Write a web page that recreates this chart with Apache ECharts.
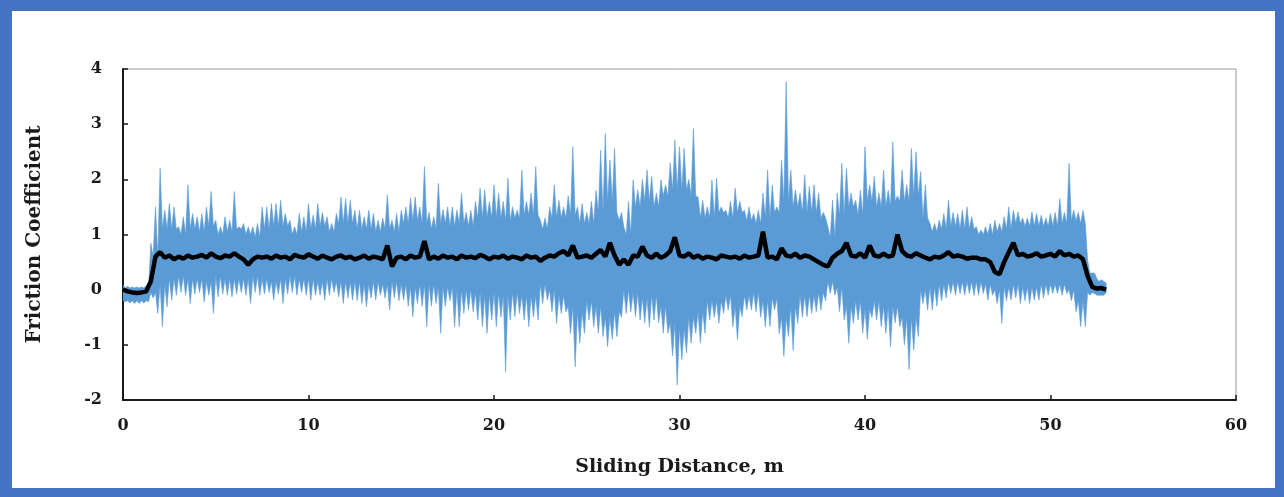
<!DOCTYPE html>
<html><head><meta charset="utf-8">
<script src="https://cdn.jsdelivr.net/npm/echarts@6.0.0/dist/echarts.min.js"></script>
<style>
html,body{margin:0;padding:0;background:#fff;}
#wrap{position:relative;width:1284px;height:497px;}
#chart{position:absolute;left:0;top:0;width:1284px;height:497px;}
#frame{position:absolute;left:0;top:0;width:1284px;height:497px;box-sizing:border-box;border-style:solid;border-color:#4472C4;border-width:11px 9px 9px 12px;pointer-events:none;}
</style></head>
<body><div id="wrap"><div id="chart"></div><div id="frame"></div></div>
<script>
// sampling step of the read-off spike values (m)
const step = 0.25;
// sampling step of the read-off dense core band (m)
const coreStep = 0.5;
// blue raw signal: local maxima (spike tops) per 0.25 m
const blueHigh = [
0.08,0.06,0.05,0.05, 0.05,0.07,0.84,1.5, 2.2,1.44,1.56,1.5, 1.14,1.32,1.9,1.38,
1.32,1.38,1.5,1.78, 1.26,1.14,1.32,1.26, 1.78,1.14,1.2,1.14, 1.14,1.2,1.5,1.5,
1.56,1.56,1.62,1.38, 1.26,1.14,1.38,1.32, 1.56,1.35,1.56,1.4, 1.32,1.2,1.38,1.68,
1.65,1.62,1.44,1.44, 1.32,1.44,1.38,1.26, 1.3,1.72,1.26,1.38, 1.44,1.5,1.66,1.68,
1.5,2.23,1.4,1.32, 1.93,1.45,1.5,1.5, 1.44,1.75,1.4,1.44, 1.6,1.84,1.81,1.6,
1.9,1.75,1.6,2.02, 1.5,1.44,2.17,1.6, 1.75,2.23,1.26,1.3, 1.5,1.9,1.62,1.5,
1.7,2.59,1.5,1.56, 1.4,1.6,1.8,2.53, 2.83,2.35,2.56,1.26, 1.14,1.6,1.99,1.81,
2.0,2.17,2.05,1.75, 1.99,1.9,2.3,2.71, 2.59,2.56,2.0,2.92, 1.68,1.62,1.5,1.99,
2.02,1.5,1.44,1.6, 1.84,1.6,1.44,1.5, 1.38,1.44,1.75,2.17, 1.9,1.5,2.35,3.77,
2.17,1.81,1.75,2.08, 1.87,1.9,1.75,1.4, 1.14,1.62,1.75,2.29, 2.2,1.75,1.62,1.8,
2.59,1.9,2.05,1.75, 2.17,1.8,2.68,1.7, 2.17,1.9,2.56,2.5, 2.14,1.9,1.2,1.2,
1.26,1.38,1.62,1.4, 1.38,1.44,1.5,1.32, 1.14,1.08,1.14,1.2, 1.26,1.2,1.32,1.5,
1.44,1.41,1.3,1.3, 1.41,1.38,1.35,1.3, 1.38,1.4,1.65,1.4, 2.29,1.44,1.4,1.44,
0.54,0.3,0.2,0.18, 0.12
];
// blue raw signal: local minima (spike bottoms) per 0.25 m
const blueLow = [
-0.22,-0.24,-0.25,-0.25, -0.24,-0.22,-0.15,-0.43, -0.67,-0.31,-0.19,-0.1, -0.05,-0.1,-0.25,-0.08,
-0.05,-0.22,-0.1,-0.43, -0.13,-0.08,-0.1,-0.13, -0.08,-0.05,-0.1,-0.25, -0.05,-0.1,-0.08,-0.05,
-0.19,-0.08,-0.25,-0.08, -0.05,-0.1,-0.05,-0.1, -0.19,-0.1,-0.1,-0.19, -0.1,-0.05,-0.13,-0.25,
-0.15,-0.19,-0.2,-0.25, -0.31,-0.15,-0.19,-0.1, -0.15,-0.37,-0.15,-0.2, -0.19,-0.3,-0.49,-0.25,
-0.3,-0.67,-0.3,-0.25, -0.79,-0.3,-0.2,-0.67, -0.67,-0.43,-0.37,-0.4, -0.55,-0.67,-0.79,-0.55,
-0.67,-0.5,-1.49,-0.55, -0.49,-0.43,-0.55,-0.67, -0.5,-0.55,-0.25,-0.19, -0.4,-0.61,-0.43,-0.4,
-0.8,-1.4,-0.97,-0.79, -0.55,-0.67,-0.79,-0.85, -1.03,-0.9,-0.85,-0.5, -0.43,-0.4,-0.49,-0.55,
-0.6,-0.67,-0.55,-0.6, -0.79,-0.79,-1.2,-1.73, -1.27,-1.15,-0.97,-0.79, -0.97,-0.79,-0.55,-0.5,
-0.61,-0.43,-0.37,-0.67, -0.91,-0.49,-0.37,-0.37, -0.4,-0.5,-0.67,-0.67, -0.37,-0.8,-1.21,-0.85,
-1.1,-0.61,-0.5,-0.49, -0.43,-0.4,-0.37,-0.2, -0.07,-0.1,-0.4,-0.55, -0.97,-0.61,-0.55,-0.79,
-0.9,-0.5,-0.55,-0.67, -0.79,-1.03,-0.6,-0.67, -1.0,-1.45,-1.1,-0.85, -0.25,-0.37,-0.37,-0.3,
-0.2,-0.15,-0.07,-0.1, -0.07,-0.1,-0.07,-0.1, -0.1,-0.07,-0.19,-0.1, -0.25,-0.61,-0.2,-0.19,
-0.15,-0.25,-0.2,-0.25, -0.19,-0.19,-0.15,-0.1, -0.07,-0.07,-0.1,-0.07, -0.2,-0.4,-0.67,-0.67,
-0.1,-0.07,-0.1,-0.1, -0.05
];
// upper edge of the dense blue core, per 0.5 m
const coreHigh = [
0.03,0.03,0.03,0.6,1.1,1.1,1.0,1.1,1.05,1.15,1.0,1.05,1.1,1.0,0.95,1.1,1.15,1.15,1.0,1.05,
1.1,1.15,1.05,1.2,1.2,1.1,1.1,1.05,1.1,1.05,1.2,1.25,1.2,1.1,1.2,1.15,1.2,1.15,1.3,1.3,1.3,1.25,
1.3,1.35,1.35,1.1,1.3,1.3,1.35,1.2,1.2,1.4,1.6,1.4,1.0,1.5,1.6,1.5,1.7,1.8,1.8,1.7,1.3,1.3,
1.4,1.3,1.4,1.25,1.2,1.3,1.4,1.6,1.5,1.4,1.4,1.3,0.95,1.35,1.5,1.35,1.6,1.5,1.5,1.6,1.6,1.7,
1.3,1.05,1.1,1.15,1.1,1.1,1.0,1.0,1.05,1.1,1.2,1.15,1.15,1.15,1.15,1.2,1.25,1.2,0.3,0.15,0.1
];
// lower edge of the dense blue core, per 0.5 m
const coreLow = [
-0.2,-0.2,-0.2,-0.05,0.1,0.2,0.25,0.2,0.2,0.15,0.25,0.2,0.2,0.2,0.25,0.2,0.15,0.2,0.25,0.2,
0.2,0.15,0.2,0.15,0.15,0.15,0.1,0.15,0.1,0.15,0.1,0.05,0.1,0.1,0.05,0.05,0.0,0.0,-0.05,-0.1,-0.05,-0.1,
-0.05,-0.1,-0.1,0.1,0.0,-0.1,-0.3,-0.4,-0.2,-0.3,-0.5,-0.4,0.0,-0.05,-0.15,-0.1,-0.3,-0.6,-0.7,-0.5,-0.4,-0.2,
-0.2,-0.1,-0.3,-0.1,-0.05,-0.2,-0.15,-0.5,-0.3,-0.1,-0.1,-0.05,0.15,0.05,-0.3,-0.2,-0.35,-0.2,-0.3,-0.3,-0.5,-0.5,
0.0,0.05,0.1,0.15,0.15,0.15,0.15,0.1,0.0,0.05,0.1,0.05,0.05,0.1,0.1,0.1,0.0,-0.2,-0.05,-0.1,-0.05
];
// black filtered friction coefficient per 0.25 m
const blackMean = [
0.0,-0.03,-0.05,-0.06, -0.05,-0.03,0.15,0.6, 0.68,0.58,0.62,0.55, 0.6,0.56,0.62,0.58,
0.6,0.63,0.58,0.66, 0.6,0.57,0.62,0.6, 0.66,0.6,0.55,0.45, 0.55,0.6,0.58,0.6,
0.56,0.62,0.58,0.6, 0.55,0.63,0.6,0.58, 0.64,0.6,0.56,0.62, 0.58,0.55,0.6,0.62,
0.57,0.6,0.55,0.58, 0.62,0.56,0.6,0.58, 0.55,0.8,0.42,0.58, 0.6,0.55,0.62,0.58,
0.6,0.88,0.55,0.6, 0.56,0.62,0.58,0.6, 0.55,0.62,0.58,0.6, 0.57,0.63,0.6,0.55,
0.6,0.58,0.62,0.56, 0.6,0.58,0.55,0.62, 0.58,0.6,0.52,0.58, 0.62,0.6,0.66,0.7,
0.62,0.8,0.58,0.6, 0.62,0.58,0.65,0.72, 0.6,0.85,0.62,0.45, 0.55,0.45,0.62,0.6,
0.78,0.62,0.58,0.65, 0.58,0.62,0.7,0.95, 0.62,0.6,0.66,0.58, 0.62,0.56,0.6,0.58,
0.55,0.62,0.6,0.58, 0.6,0.56,0.62,0.58, 0.6,0.62,1.05,0.58, 0.6,0.55,0.75,0.62,
0.6,0.65,0.58,0.62, 0.6,0.55,0.5,0.45, 0.42,0.58,0.65,0.7, 0.85,0.62,0.6,0.66,
0.58,0.8,0.62,0.6, 0.65,0.6,0.62,1.0, 0.7,0.62,0.6,0.66, 0.62,0.58,0.55,0.6,
0.58,0.62,0.68,0.6, 0.62,0.6,0.56,0.58, 0.58,0.55,0.55,0.5, 0.32,0.28,0.5,0.68,
0.85,0.62,0.65,0.6, 0.62,0.66,0.6,0.62, 0.65,0.6,0.7,0.62, 0.65,0.6,0.62,0.55,
0.25,0.05,0.02,0.03, 0.0
];
const yTicks = [-2, -1, 0, 1, 2, 3, 4];
const xTicks = [0, 10, 20, 30, 40, 50, 60];

// build the blue outline (data space): spike tops alternating with core top,
// then back along spike bottoms alternating with core bottom
function coreIdx(x) { return Math.min(coreHigh.length - 1, Math.floor(x / coreStep + 1e-9)); }
const upper = [], lower = [];
const n = blueHigh.length;
for (let i = 0; i < n; i++) {
  const x = i * step;
  upper.push([x, blueHigh[i]]);
  lower.push([x, coreLow[coreIdx(x)]]);
  if (i < n - 1) {
    const xm = x + step / 2;
    upper.push([xm, coreHigh[coreIdx(xm)]]);
    lower.push([xm, blueLow[i]]);
  } else {
    lower.push([x, blueLow[i]]);
  }
}
const outline = upper.concat(lower.reverse());
const blackData = blackMean.map((v, i) => [i * step, v]);

const font = 'DejaVu Serif';
const txt = '#1a1a1a';
const chart = echarts.init(document.getElementById('chart'), null, {renderer: 'canvas'});
chart.setOption({
  animation: false,
  backgroundColor: '#fff',
  grid: {left: 123, right: 48, top: 69, bottom: 97, show: true, borderColor: '#9a9a9a', borderWidth: 1, backgroundColor: 'transparent'},
  xAxis: {
    type: 'value', min: xTicks[0], max: xTicks[xTicks.length - 1], interval: 10,
    name: 'Sliding Distance, m', nameLocation: 'middle', nameGap: 58,
    nameTextStyle: {fontFamily: font, fontWeight: 'bold', fontSize: 19, color: txt},
    axisLine: {show: true, onZero: false, lineStyle: {color: txt, width: 2}},
    axisTick: {show: true, inside: true, length: 5, lineStyle: {color: txt, width: 1.5}},
    axisLabel: {fontFamily: font, fontWeight: 'bold', fontSize: 16, color: txt, margin: 18},
    splitLine: {show: false}
  },
  yAxis: {
    type: 'value', min: yTicks[0], max: yTicks[yTicks.length - 1], interval: 1,
    name: 'Friction Coefficient', nameLocation: 'middle', nameGap: 78, nameRotate: 90,
    nameTextStyle: {fontFamily: font, fontWeight: 'bold', fontSize: 20, color: txt},
    axisLine: {show: true, onZero: false, lineStyle: {color: txt, width: 2}},
    axisTick: {show: true, inside: true, length: 5, lineStyle: {color: txt, width: 1.5}},
    axisLabel: {fontFamily: font, fontWeight: 'bold', fontSize: 16, color: txt, margin: 21},
    splitLine: {show: false}
  },
  series: [
    {type: 'custom', coordinateSystem: 'cartesian2d', data: [[0, 0]], z: 2, clip: true,
     renderItem: function (params, api) {
       const pts = outline.map(p => api.coord(p));
       return {type: 'polygon', shape: {points: pts}, style: {fill: '#5B9BD5', stroke: '#5B9BD5', lineWidth: 0.6}};
     }},
    {type: 'line', data: blackData, showSymbol: false, symbol: 'none', z: 3,
     lineStyle: {color: '#000', width: 4.5}}
  ]
});
</script></body></html>
